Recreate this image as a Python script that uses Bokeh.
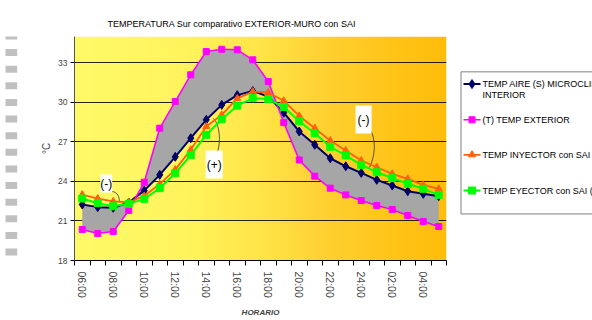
import numpy as np
from bokeh.plotting import figure
from bokeh.models import FixedTicker, Label, Title
from bokeh.layouts import row
from bokeh.embed import file_html
from bokeh.resources import INLINE
from bokeh.core.properties import value

# ---------------- data ----------------
hours = ["06:00", "07:00", "08:00", "09:00", "10:00", "11:00", "12:00", "13:00",
         "14:00", "15:00", "16:00", "17:00", "18:00", "19:00", "20:00", "21:00",
         "22:00", "23:00", "24:00", "01:00", "02:00", "03:00", "04:00", "05:00"]
exterior = [20.35, 20.05, 20.2, 21.8, 23.94, 28.04, 30.06, 32.09, 33.86, 34.03, 33.99, 33.23,
            31.58, 28.47, 25.63, 24.4, 23.49, 22.98, 22.55, 22.17, 21.87, 21.41, 20.96, 20.58]
aire = [22.25, 22.05, 22.0, 22.4, 23.3, 24.5, 25.87, 27.28, 28.68, 29.81, 30.55, 30.86,
        30.44, 29.22, 27.79, 26.78, 25.76, 25.15, 24.65, 24.12, 23.69, 23.26, 23.06, 22.88]
inyector = [23.0, 22.7, 22.48, 22.42, 22.9, 23.8, 24.9, 26.4, 28.17, 29.05, 30.3, 30.82,
            30.75, 30.12, 28.97, 28.04, 27.1, 26.35, 25.59, 25.08, 24.58, 24.2, 23.74, 23.44]
eyector = [22.7, 22.35, 22.12, 22.3, 22.68, 23.49, 24.62, 26.0, 27.54, 28.72, 29.75, 30.32,
           30.25, 29.65, 28.56, 27.66, 26.63, 25.97, 25.26, 24.7, 24.25, 23.82, 23.44, 22.98]
y_ticks = [18, 21, 24, 27, 30, 33]
series_names = ["TEMP AIRE (S) MICROCLIMA", "(T) TEMP EXTERIOR",
                "TEMP INYECTOR con SAI", "TEMP EYECTOR con SAI (E)"]
series_extra = "INTERIOR"
title_text = "TEMPERATURA Sur comparativo EXTERIOR-MURO con SAI"

FONT = "Liberation Sans"
x = list(range(len(hours)))

# ---------------- main chart ----------------
p = figure(frame_width=372, frame_height=224,
           x_range=(-0.5, len(hours) - 0.5), y_range=(18, 35),
           output_backend="svg", toolbar_location=None,
           min_border_left=54, min_border_right=10, min_border_top=36, min_border_bottom=60)
p.outline_line_color = None
p.border_fill_color = "white"

t = Title(text=title_text, align="left", offset=33, text_font=FONT,
          text_font_size="9px", text_font_style="normal", text_color="#000000", standoff=16)
p.add_layout(t, "above")

# background gradient
N = 372
tt = np.linspace(0, 1, N)
stops = [0.0, 0.3, 0.5, 0.66, 0.85, 1.0]
gch = np.interp(tt, stops, [250, 244, 229, 210, 197, 189])
bch = np.interp(tt, stops, [105, 92, 72, 52, 25, 10])
img = np.empty((1, N), dtype=np.uint32)
view = img.view(dtype=np.uint8).reshape((1, N, 4))
view[0, :, 0] = 255
view[0, :, 1] = gch.astype(np.uint8)
view[0, :, 2] = bch.astype(np.uint8)
view[0, :, 3] = 255
p.image_rgba(image=[img], x=-0.5, y=18, dw=len(hours), dh=17, level="image")

# axes
p.yaxis.ticker = FixedTicker(ticks=y_ticks)
p.ygrid.ticker = FixedTicker(ticks=y_ticks)
p.xgrid.visible = False
p.ygrid.grid_line_color = "#000000"
p.ygrid.grid_line_alpha = 0.85
p.yaxis.major_tick_out = 4
p.yaxis.major_tick_in = 0
p.yaxis.minor_tick_out = 0
p.yaxis.major_label_standoff = 3
p.yaxis.axis_line_color = "#555555"
p.yaxis.major_label_text_font = FONT
p.yaxis.major_label_text_font_size = "8.5px"
p.yaxis.axis_label = "°C"
p.yaxis.axis_label_text_font = FONT
p.yaxis.axis_label_text_font_size = "10px"
p.yaxis.axis_label_text_font_style = "normal"
p.yaxis.axis_label_standoff = 3

p.xaxis.ticker = FixedTicker(ticks=x[::2], minor_ticks=[i - 0.5 for i in range(len(hours) + 1)])
p.xaxis.major_label_overrides = {i: hours[i] for i in x[::2]}
p.xaxis.major_label_orientation = "vertical"
p.xaxis.major_tick_out = 0
p.xaxis.major_tick_in = 0
p.xaxis.minor_tick_out = 5
p.xaxis.minor_tick_in = 0
p.xaxis.major_label_standoff = 6
p.xaxis.major_label_text_font = FONT
p.xaxis.major_label_text_font_size = "10.5px"
p.xaxis.axis_label = "HORARIO"
p.xaxis.axis_label_text_font = FONT
p.xaxis.axis_label_text_font_size = "8px"
p.xaxis.axis_label_text_font_style = "bold italic"
p.xaxis.axis_label_standoff = 7
p.xaxis.axis_line_color = "#000000"

# gray difference band
p.varea(x=x, y1=exterior, y2=aire, fill_color="#a6a6a6", fill_alpha=1.0)

# callouts
curve_kw = dict(line_color="#333333", line_width=0.8)
p.bezier(x0=1.9, y0=23.24, x1=2.4, y1=22.42, cx0=2.3, cy0=23.2, cx1=2.4, cy1=22.8, **curve_kw)
p.bezier(x0=8.47, y0=28.77, x1=8.73, y1=26.27, cx0=8.92, cy0=28.24, cx1=8.92, cy1=26.88, **curve_kw)
p.bezier(x0=18.53, y0=28.02, x1=18.53, y1=25.06, cx0=18.98, cy0=27.26, cx1=18.92, cy1=25.97, **curve_kw)

# series
styles = [
    (aire, "#000066", "diamond", 9, 2.0),
    (exterior, "#FF00FF", "square", 6, 1.6),
    (inyector, "#FF6010", "triangle", 7, 1.8),
    (eyector, "#00FF00", "square", 7, 2.0),
]
for ys, col, mk, sz, lw in styles:
    p.line(x, ys, line_color=col, line_width=lw)
    p.scatter(x, ys, marker=mk, size=sz, fill_color=col, line_color=col)

for (lx, ly, txt, pad) in [(1.55, 23.84, "(-)", dict(left=0, right=0, top=2, bottom=2)),
                           (8.51, 25.28, "(+)", dict(left=1, right=1, top=7, bottom=7)),
                           (18.15, 28.7, "(-)", dict(left=2, right=2, top=7, bottom=7))]:
    p.add_layout(Label(x=lx, y=ly, text=txt, text_align="center", text_baseline="middle",
                       text_font=FONT, text_font_size="12px", text_color="#000000",
                       background_fill_color="white", padding=pad))

# ---------------- legend panel ----------------
lg = figure(width=136, height=320, x_range=(456, 592), y_range=(320, 0),
            output_backend="svg", toolbar_location=None, min_border=0,
            x_axis_type=None, y_axis_type=None)
lg.grid.visible = False
lg.outline_line_color = None
lg.quad(left=[460.5], right=[720], top=[50.5], bottom=[253.5],
        fill_color="white", line_color="#808080", line_width=1)
entry_y = [68, 119, 169, 220]
for (ys, col, mk, sz, lw), name, ey in zip(styles, series_names, entry_y):
    lg.line([463, 480], [ey, ey], line_color=col, line_width=lw)
    lg.scatter([471.5], [ey], marker=mk, size=sz, fill_color=col, line_color=col)
    lg.text([482], [ey], text=[name], text_baseline="middle", text_font=value(FONT),
            text_font_size="9px", text_color="#000000")
lg.text([482], [entry_y[0] + 15], text=[series_extra], text_baseline="middle",
        text_font=value(FONT), text_font_size="9px", text_color="#000000")

# ---------------- decorative page squares ----------------
sq = figure(width=20, height=320, x_range=(0, 20), y_range=(320, 0),
            output_backend="svg", toolbar_location=None, min_border=0,
            x_axis_type=None, y_axis_type=None)
sq.grid.visible = False
sq.outline_line_color = None
tops = [18 + 23.75 * k for k in range(-1, 13)]
sq.quad(left=[5] * len(tops), right=[16.7] * len(tops), top=tops,
        bottom=[tp + 10 for tp in tops], fill_color="#c0c0c0", line_color=None)

layout = row(sq, p, lg)
open("out.html", "w").write(file_html(layout, INLINE))
